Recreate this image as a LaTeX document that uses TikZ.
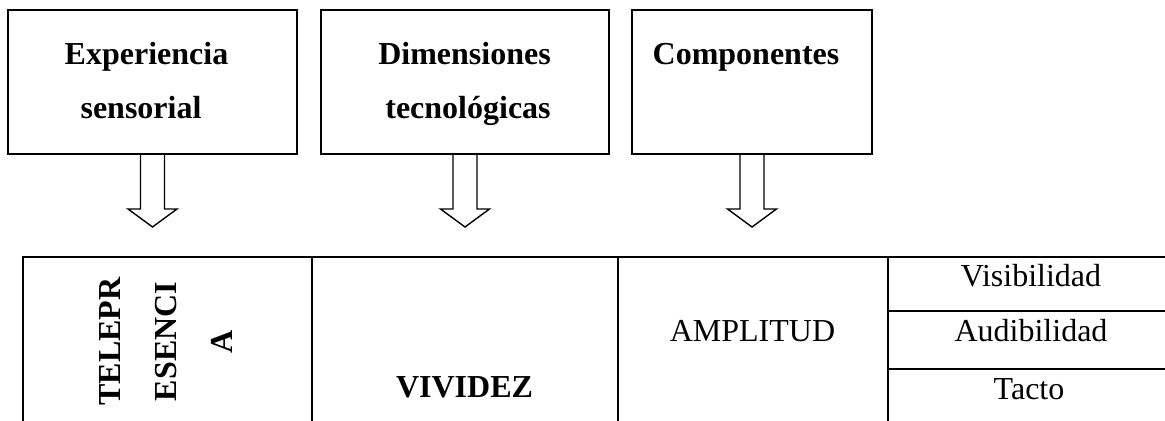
\documentclass[tikz,border=0pt]{standalone}
\usepackage{fontspec}
\setmainfont{Liberation Serif}
\usetikzlibrary{calc}
\newcommand\blockdown[1]{%
  \draw[blockarr] ($(#1.south)+(-12,0)$) -- ($(#1.south)+(-12,54)$) -- ($(#1.south)+(-24.5,54)$)
    -- ($(#1.south)+(0,72)$) -- ($(#1.south)+(24.5,54)$) -- ($(#1.south)+(12,54)$) -- ($(#1.south)+(12,0)$);}
\begin{document}
\begin{tikzpicture}[x=0.5pt,y=-0.5pt,
  topbox/.style={draw, line width=1pt, minimum width=#1, minimum height=72pt, inner sep=0pt},
  boldlbl/.style={inner sep=0pt, anchor=base, font=\bfseries\fontsize{16}{16}\selectfont},
  plainlbl/.style={inner sep=0pt, anchor=base, font=\fontsize{16}{16}\selectfont},
  blockarr/.style={draw, line width=0.7pt, line join=miter},
  tbl/.style={line width=1.4pt, line join=miter}]
\useasboundingbox (0,0) rectangle (1165,421);
% top boxes
\node[topbox=144.5pt] (b1) at (152.5,82) {};
\node[topbox=144pt] (b2) at (465,82) {};
\node[topbox=120pt] (b3) at (752,82) {};
\node[boldlbl] (t1a) at (146.5,65) {Experiencia};
\node[boldlbl] (t1b) at (141,119) {sensorial};
\node[boldlbl] (t2a) at (464.5,65) {Dimensiones};
\node[boldlbl] (t2b) at (468,119) {tecnológicas};
\node[boldlbl] (t3a) at (746,65) {Componentes};
% block arrows
\blockdown{b1}
\blockdown{b2}
\blockdown{b3}
% table
\draw[tbl] (23,421) -- (23,257) -- (1165,257);
\draw[tbl] (312,257) -- (312,421);
\draw[tbl] (618,257) -- (618,421);
\draw[tbl] (888,257) -- (888,421);
\draw[tbl] (888,311) -- (1165,311);
\draw[tbl] (888,369) -- (1165,369);
% table texts
\node[inner sep=0pt, rotate=90, align=center, font=\bfseries\fontsize{16}{28}\selectfont] (tele) at (166.5,341.5) {TELEPR\\ESENCI\\A};
\node[boldlbl] (viv) at (464.5,398) {VIVIDEZ};
\node[plainlbl] (amp) at (752.5,342) {AMPLITUD};
\node[plainlbl] (vis) at (1031,287) {Visibilidad};
\node[plainlbl] (aud) at (1031,342) {Audibilidad};
\node[plainlbl] (tac) at (1029,400) {Tacto};
\end{tikzpicture}
\end{document}
